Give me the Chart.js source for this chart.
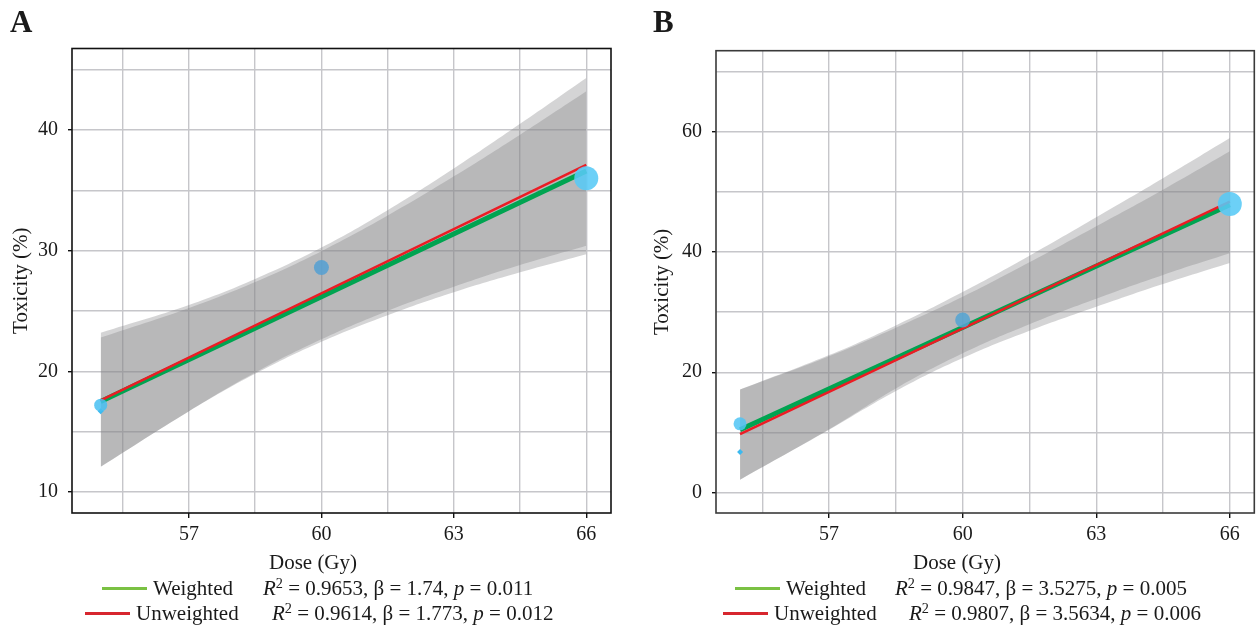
<!DOCTYPE html>
<html><head><meta charset="utf-8">
<script src="https://cdn.jsdelivr.net/npm/chart.js@4/dist/chart.umd.min.js"></script>
<style>
html,body{margin:0;padding:0;}
body{background:#fff;width:1257px;height:628px;overflow:hidden;position:relative;font-family:"Liberation Serif",serif;color:#1a1a1a;}
.abs{position:absolute;white-space:nowrap;}
canvas{position:absolute;top:0;}
.lbl{font-weight:bold;font-size:31px;line-height:34px;top:5px;}
.ttl{font-size:21px;line-height:24px;transform:translateX(-50%);}
.leg{font-size:21px;line-height:24px;}
.leg sup{font-size:0.68em;vertical-align:0.5em;line-height:0;}
.sw{position:absolute;height:3px;}
</style></head><body>
<canvas id="cA" width="628" height="575" style="left:0;width:628px;height:575px"></canvas>
<canvas id="cB" width="629" height="575" style="left:628px;width:629px;height:575px"></canvas>

<div class="abs lbl" style="left:10px">A</div>
<div class="abs lbl" style="left:653px">B</div>

<div class="abs ttl" style="left:313px;top:550px">Dose (Gy)</div>
<div class="abs ttl" style="left:957px;top:550px">Dose (Gy)</div>

<div class="sw" style="left:102px;top:587px;width:45px;background:#7ac143"></div>
<div class="abs leg" style="left:153px;top:576px">Weighted</div>
<div class="abs leg" style="left:263px;top:576px"><i>R</i><sup>2</sup> = 0.9653, β = 1.74, <i>p</i> = 0.011</div>
<div class="sw" style="left:85px;top:612px;width:45px;background:#d7262e"></div>
<div class="abs leg" style="left:136px;top:601px">Unweighted</div>
<div class="abs leg" style="left:272px;top:601px"><i>R</i><sup>2</sup> = 0.9614, β = 1.773, <i>p</i> = 0.012</div>

<div class="sw" style="left:735px;top:587px;width:45px;background:#7ac143"></div>
<div class="abs leg" style="left:786px;top:576px">Weighted</div>
<div class="abs leg" style="left:895px;top:576px"><i>R</i><sup>2</sup> = 0.9847, β = 3.5275, <i>p</i> = 0.005</div>
<div class="sw" style="left:723px;top:612px;width:45px;background:#d7262e"></div>
<div class="abs leg" style="left:774px;top:601px">Unweighted</div>
<div class="abs leg" style="left:909px;top:601px"><i>R</i><sup>2</sup> = 0.9807, β = 3.5634, <i>p</i> = 0.006</div>

<script>
// ---- data ----
const doseX = [55, 60, 66];
const toxA = [17.2, 28.6, 36.0];
const toxB = [11.4, 28.7, 48.0];
const smallX = [55];
const smallA = [16.7];
const smallB = [6.7];

const fitX = [55, 66];
const weightedA = [17.5, 36.6];
const unweightedA = [17.6, 37.1];
const weightedB = [10.4, 47.9];
const unweightedB = [9.7, 48.4];

const bandX = [55, 57, 58.5, 60, 61.5, 63, 64.5, 66];
const bandA_outerUpper = [23.2, 25.5, 27.65, 30.25, 33.35, 36.8, 40.5, 44.3];
const bandA_outerLower = [12.1, 16.7, 19.8, 22.45, 24.65, 26.55, 28.2, 29.7];
const bandA_innerUpper = [22.8, 25.25, 27.4, 29.95, 32.9, 36.15, 39.6, 43.2];
const bandA_innerLower = [12.1, 16.7, 19.9, 22.65, 25.0, 27.0, 28.8, 30.4];

const bandB_outerUpper = [17.1, 22.85, 27.8, 33.35, 39.4, 45.8, 52.3, 59.0];
const bandB_outerLower = [2.1, 10.4, 16.85, 22.35, 26.9, 30.9, 34.7, 38.2];
const bandB_innerUpper = [17.1, 22.65, 27.4, 32.55, 38.3, 44.3, 50.4, 56.8];
const bandB_innerLower = [2.1, 10.5, 17.3, 23.15, 28.0, 32.25, 36.2, 39.8];

const xGrid = [55.5, 57, 58.5, 60, 61.5, 63, 64.5, 66];
const xLabels = [57, 60, 63, 66];
const yGridA = [10, 15, 20, 25, 30, 35, 40, 45];
const yLabelsA = [10, 20, 30, 40];
const yGridB = [0, 10, 20, 30, 40, 50, 60, 70];
const yLabelsB = [0, 20, 40, 60];

// ---- helpers ----
const xy = (xs, ys) => xs.map((v, i) => ({x: v, y: ys[i]}));
const bandFill = 'rgba(132,133,136,0.35)';

function bandSets(lo, hi) {
  const common = {borderWidth: 0, pointRadius: 0, backgroundColor: bandFill,
    tension: 0.4, order: 10};
  return [
    Object.assign({data: xy(bandX, hi), fill: '+1'}, common),
    Object.assign({data: xy(bandX, lo), fill: false}, common)
  ];
}

const boxPlugin = {
  id: 'box',
  beforeDatasetsDraw(chart, args, opts) {
    const {ctx, chartArea: a} = chart;
    ctx.save();
    ctx.strokeStyle = opts.color;
    ctx.lineWidth = opts.width;
    ctx.strokeRect(a.left, a.top, a.right - a.left, a.bottom - a.top);
    ctx.restore();
  }
};

function makeChart(id, cfg) {
  const datasets = [
    ...bandSets(cfg.outerLo, cfg.outerHi),
    ...bandSets(cfg.innerLo, cfg.innerHi),
    {data: xy(fitX, cfg.weighted), borderColor: '#00a451', borderWidth: 5, pointRadius: 0, fill: false, order: 5},
    {data: xy(fitX, cfg.unweighted), borderColor: '#ec1c24', borderWidth: 2.5, pointRadius: 0, fill: false, order: 4},
    {data: xy(smallX, cfg.small), showLine: false, pointStyle: 'rectRot', pointRadius: 3,
      pointBackgroundColor: '#3cb9ef', pointBorderWidth: 0, order: 2},
    {data: xy(doseX, cfg.tox), showLine: false, pointRadius: [6.5, 7.5, 12],
      pointBackgroundColor: cfg.pointColors, pointBorderWidth: 0, order: 1}
  ];
  const tickFont = {family: 'Liberation Serif', size: 20};
  return new Chart(document.getElementById(id), {
    type: 'line',
    data: {datasets},
    plugins: [boxPlugin],
    options: {
      animation: false,
      responsive: false,
      layout: {autoPadding: false, padding: {left: 0, top: cfg.top, right: cfg.right, bottom: 0}},
      plugins: {legend: {display: false}, tooltip: {enabled: false},
        box: {color: cfg.boxColor, width: 1.6}},
      scales: {
        x: {
          type: 'linear', min: cfg.xmin, max: cfg.xmax,
          afterBuildTicks: s => { s.ticks = xGrid.map(v => ({value: v})); },
          afterFit: s => { s.height = 62; s.paddingLeft = 0; s.paddingRight = 0; },
          border: {display: false},
          grid: {color: '#c6c6ca', lineWidth: 1.4, tickLength: 5,
            tickColor: c => xLabels.includes(c.tick && c.tick.value) ? '#111' : 'rgba(0,0,0,0)', tickWidth: 1.4},
          ticks: {autoSkip: false, maxRotation: 0, padding: 5, color: '#1a1a1a', font: tickFont,
            callback: v => xLabels.includes(v) ? String(v) : ''}
        },
        y: {
          min: cfg.ymin, max: cfg.ymax,
          afterBuildTicks: s => { s.ticks = cfg.yGrid.map(v => ({value: v})); },
          afterFit: s => { s.width = cfg.yWidth; s.paddingTop = 0; s.paddingBottom = 0; },
          border: {display: false},
          grid: {color: '#c6c6ca', lineWidth: 1.4, tickLength: 4,
            tickColor: c => cfg.yLabels.includes(c.tick && c.tick.value) ? '#111' : 'rgba(0,0,0,0)', tickWidth: 1.4},
          ticks: {autoSkip: false, padding: 10, color: '#1a1a1a', font: tickFont,
            callback: v => cfg.yLabels.includes(v) ? String(v) : ''},
          title: {display: true, text: 'Toxicity (%)', color: '#1a1a1a',
            font: {family: 'Liberation Serif', size: 21}, padding: {top: cfg.titlePad, bottom: 0}}
        }
      }
    }
  });
}

makeChart('cA', {
  tox: toxA, small: smallA, weighted: weightedA, unweighted: unweightedA,
  outerLo: bandA_outerLower, outerHi: bandA_outerUpper, innerLo: bandA_innerLower, innerHi: bandA_innerUpper,
  pointColors: ['rgba(70,192,242,0.85)', 'rgba(84,160,212,0.85)', 'rgba(88,202,246,0.88)'],
  xmin: 54.35, xmax: 66.56, ymin: 8.27, ymax: 46.74,
  yGrid: yGridA, yLabels: yLabelsA, yWidth: 72, titlePad: 9, top: 48.5, right: 17, boxColor: '#111'
});
makeChart('cB', {
  tox: toxB, small: smallB, weighted: weightedB, unweighted: unweightedB,
  outerLo: bandB_outerLower, outerHi: bandB_outerUpper, innerLo: bandB_innerLower, innerHi: bandB_innerUpper,
  pointColors: ['rgba(80,196,244,0.85)', 'rgba(84,164,212,0.85)', 'rgba(88,202,246,0.88)'],
  xmin: 54.46, xmax: 66.55, ymin: -3.45, ymax: 73.55,
  yGrid: yGridB, yLabels: yLabelsB, yWidth: 88, titlePad: 22, top: 50.7, right: 2.7, boxColor: '#3a3a3a'
});
</script>
</body></html>
